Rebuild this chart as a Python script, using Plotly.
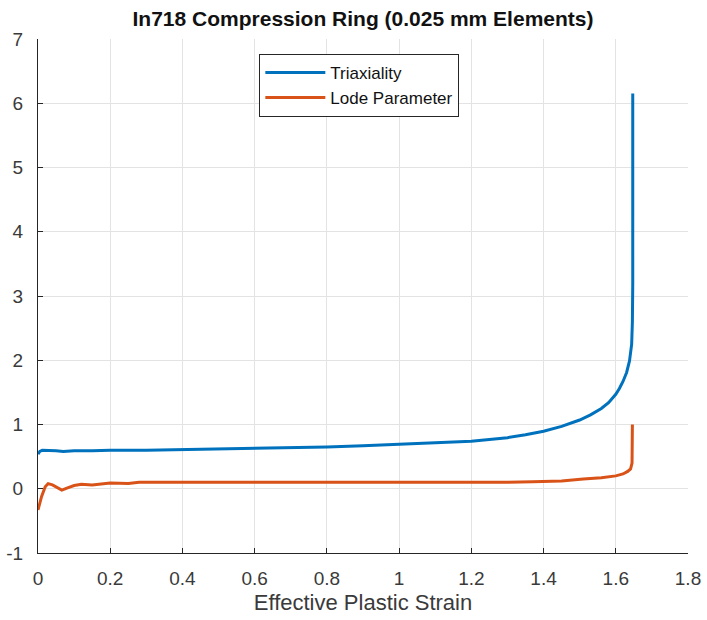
import plotly.graph_objects as go

# Triaxiality series
x_tri = [0, 0.005, 0.012, 0.03, 0.05, 0.07, 0.1, 0.15, 0.2, 0.3, 0.4, 0.5, 0.6, 0.7, 0.8,
         0.9, 1.0, 1.1, 1.2, 1.25, 1.3, 1.35, 1.4, 1.45, 1.5, 1.53, 1.56, 1.58, 1.6, 1.61, 1.62,
         1.63, 1.638, 1.644, 1.646, 1.647, 1.647, 1.647]
y_tri = [0.54, 0.58, 0.6, 0.6, 0.59, 0.58, 0.59, 0.59, 0.6, 0.6, 0.61, 0.61, 0.62, 0.64, 0.65,
         0.67, 0.69, 0.71, 0.74, 0.765, 0.795, 0.84, 0.895, 0.97, 1.07, 1.15, 1.25, 1.34, 1.47, 1.56, 1.67,
         1.81, 1.99, 2.25, 2.6, 3.2, 4.5, 6.15]

# Lode parameter series
x_lode = [0, 0.01, 0.02, 0.028, 0.04, 0.055, 0.066, 0.08, 0.1, 0.12, 0.15, 0.2, 0.25, 0.28,
          0.35, 0.4, 0.5, 0.6, 0.7, 0.8, 0.9, 1.0, 1.1, 1.2, 1.3, 1.37, 1.45, 1.51, 1.56,
          1.6, 1.62, 1.633, 1.641, 1.645, 1.646, 1.646]
y_lode = [-0.33, -0.12, 0.03, 0.08, 0.06, 0.02, -0.02, 0.01, 0.05, 0.07, 0.06, 0.09, 0.08, 0.1,
          0.1, 0.1, 0.1, 0.1, 0.1, 0.09, 0.09, 0.09, 0.09, 0.1, 0.1, 0.11, 0.12, 0.15, 0.17,
          0.2, 0.23, 0.27, 0.31, 0.4, 0.7, 1.0]

x_ticks = [0, 0.2, 0.4, 0.6, 0.8, 1.0, 1.2, 1.4, 1.6, 1.8]
x_tick_text = ["0", "0.2", "0.4", "0.6", "0.8", "1", "1.2", "1.4", "1.6", "1.8"]
y_ticks = [-1, 0, 1, 2, 3, 4, 5, 6, 7]
y_tick_text = ["-1", "0", "1", "2", "3", "4", "5", "6", "7"]

font_family = "Liberation Sans, Arial, Helvetica, sans-serif"
axis_color = "#262626"
label_color = "#3a3a3a"
grid_color = "#e3e3e3"

fig = go.Figure()
fig.add_trace(go.Scatter(x=x_tri, y=y_tri, mode="lines", name="Triaxiality",
                         line=dict(color="#0072BD", width=3)))
fig.add_trace(go.Scatter(x=x_lode, y=y_lode, mode="lines", name="Lode Parameter",
                         line=dict(color="#D95319", width=3)))

fig.update_layout(
    width=707, height=620,
    margin=dict(l=38, r=19, t=39, b=67),
    paper_bgcolor="white", plot_bgcolor="white",
    font=dict(family=font_family, color=label_color, size=19),
    title=dict(text="<b>In718 Compression Ring (0.025 mm Elements)</b>",
               x=(38 + 650 / 2) / 707, xanchor="center", y=1 - 19 / 620, yanchor="middle",
               font=dict(size=21, color="#111111", family=font_family)),
    showlegend=True,
    legend=dict(x=0.3405, y=0.971, xanchor="left", yanchor="top",
                bgcolor="white", bordercolor="#262626", borderwidth=1,
                font=dict(size=17, color="#111111", family=font_family),
                tracegroupgap=0, itemwidth=60),
)

fig.update_xaxes(range=[0, 1.8], tickvals=x_ticks, ticktext=x_tick_text,
                 showgrid=True, gridcolor=grid_color, gridwidth=1,
                 showline=True, linecolor=axis_color, linewidth=1,
                 ticks="inside", ticklen=5, tickcolor=axis_color,
                 zeroline=False, mirror=False, automargin=False,
                 ticklabelstandoff=8,
                 title=dict(text="Effective Plastic Strain", font=dict(size=22, color=label_color), standoff=6),
                 tickfont=dict(size=19, color=label_color))
fig.update_yaxes(range=[-1, 7], tickvals=y_ticks, ticktext=y_tick_text,
                 showgrid=True, gridcolor=grid_color, gridwidth=1,
                 showline=True, linecolor=axis_color, linewidth=1,
                 ticks="inside", ticklen=5, tickcolor=axis_color,
                 zeroline=False, mirror=False, automargin=False,
                 ticklabelstandoff=10,
                 tickfont=dict(size=19, color=label_color))

fig.write_html("out.html")
